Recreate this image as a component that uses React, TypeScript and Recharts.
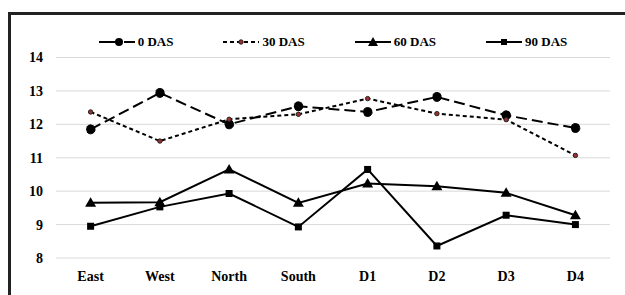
import { LineChart, Line, XAxis, YAxis, CartesianGrid, Legend } from 'recharts'

const categories = ['East', 'West', 'North', 'South', 'D1', 'D2', 'D3', 'D4']
const das0 = [11.85, 12.94, 12.0, 12.54, 12.37, 12.82, 12.27, 11.89]
const das30 = [12.37, 11.5, 12.15, 12.3, 12.77, 12.32, 12.14, 11.07]
const das60 = [9.65, 9.67, 10.65, 9.65, 10.23, 10.15, 9.95, 9.28]
const das90 = [8.95, 9.53, 9.93, 8.93, 10.65, 8.36, 9.28, 9.0]
const yTicks = [8, 9, 10, 11, 12, 13, 14]

const data = categories.map((c, i) => ({
  name: c,
  d0: das0[i],
  d30: das30[i],
  d60: das60[i],
  d90: das90[i],
}))

const FONT = 'Liberation Serif'

const Triangle = (props: any) => {
  const { cx, cy, index } = props
  if (cx == null || cy == null) return <g key={index} />
  return <polygon key={index} points={`${cx},${cy - 5.5} ${cx - 5.5},${cy + 4} ${cx + 5.5},${cy + 4}`} fill="#000" />
}

const Square = (props: any) => {
  const { cx, cy, index } = props
  if (cx == null || cy == null) return <g key={index} />
  return <rect key={index} x={cx - 3.5} y={cy - 3.5} width={7} height={7} fill="#000" />
}

const series = [
  { key: 'd0', name: '0 DAS', dash: '11 5', marker: 'circle' },
  { key: 'd30', name: '30 DAS', dash: '4 3', marker: 'dot' },
  { key: 'd60', name: '60 DAS', dash: undefined, marker: 'triangle' },
  { key: 'd90', name: '90 DAS', dash: undefined, marker: 'square' },
]

const LegendIcon = ({ dash, marker }: { dash?: string; marker: string }) => (
  <svg width={36} height={12} style={{ marginRight: 3 }}>
    <line x1={0} y1={6} x2={36} y2={6} stroke="#000" strokeWidth={2} strokeDasharray={dash ? (marker === 'circle' ? '20 5' : '4 3') : undefined} />
    {marker === 'circle' && <circle cx={20} cy={6} r={4} fill="#000" />}
    {marker === 'dot' && <circle cx={18} cy={6} r={2.2} fill="#a03030" stroke="#222" strokeWidth={1} />}
    {marker === 'triangle' && <polygon points="18,1 13,10 23,10" fill="#000" />}
    {marker === 'square' && <rect x={15} y={3} width={6} height={6} fill="#000" />}
  </svg>
)

const renderLegend = () => (
  <div style={{ display: 'flex', justifyContent: 'center', gap: 50, fontFamily: FONT, fontWeight: 'bold', fontSize: 13, color: '#000' }}>
    {series.map((s) => (
      <div key={s.key} style={{ display: 'flex', alignItems: 'center', lineHeight: '16px' }}>
        <LegendIcon dash={s.dash} marker={s.marker} />
        <span>{s.name}</span>
      </div>
    ))}
  </div>
)

export default function App() {
  const tickStyle = { fontFamily: FONT, fontWeight: 'bold', fontSize: 14, fill: '#000' }
  return (
    <div style={{ position: 'fixed', left: 0, top: 0, width: 625, height: 295, overflow: 'hidden', background: '#fff' }}>
      <div style={{ position: 'absolute', left: 8, top: 12, width: 700, height: 400, border: '3px solid #222' }} />
      <div style={{ position: 'absolute', left: 0, top: 0 }}>
        <LineChart width={625} height={295} data={data} margin={{ top: 34, right: 15, left: 0, bottom: 10 }}>
          <CartesianGrid vertical={false} stroke="#d9d9d9" strokeWidth={1} />
          <XAxis
            dataKey="name"
            axisLine={false}
            tickLine={false}
            tickMargin={7}
            height={27}
            tick={tickStyle}
            interval={0}
            padding={{ left: 34.6, right: 34.6 }}
          />
          <YAxis
            domain={[8, 14]}
            ticks={yTicks}
            axisLine={false}
            tickLine={false}
            tickMargin={7}
            width={56}
            tick={tickStyle}
          />
          <Legend
            verticalAlign="top"
            height={23.5}
            content={renderLegend}
            wrapperStyle={{ left: 56, width: 554 }}
          />
          <Line
            dataKey="d0"
            name="0 DAS"
            stroke="#000"
            strokeWidth={2}
            strokeDasharray="11 5"
            dot={{ r: 4.5, fill: '#000', stroke: '#000', strokeWidth: 1 }}
            isAnimationActive={false}
          />
          <Line
            dataKey="d30"
            name="30 DAS"
            stroke="#000"
            strokeWidth={2}
            strokeDasharray="4 3"
            dot={{ r: 2.2, fill: '#a03030', stroke: '#222', strokeWidth: 1, strokeDasharray: '' }}
            isAnimationActive={false}
          />
          <Line
            dataKey="d60"
            name="60 DAS"
            stroke="#000"
            strokeWidth={2}
            dot={Triangle}
            isAnimationActive={false}
          />
          <Line
            dataKey="d90"
            name="90 DAS"
            stroke="#000"
            strokeWidth={2}
            dot={Square}
            isAnimationActive={false}
          />
        </LineChart>
      </div>
    </div>
  )
}
